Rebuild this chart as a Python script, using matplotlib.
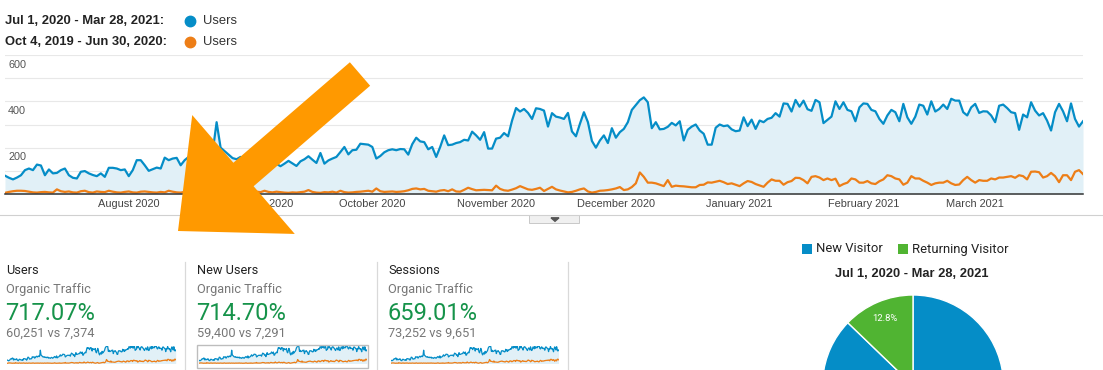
import numpy as np
import pandas as pd
import matplotlib
matplotlib.use("Agg")
import matplotlib.pyplot as plt
from matplotlib.patches import Polygon, Rectangle
from matplotlib.lines import Line2D

# daily users, Jul 1 2020 - Mar 28 2021
users_now = [
    79, 70, 63, 71, 81, 103, 110, 103, 127, 123,
    81, 106, 89, 91, 103, 110, 81, 70, 67, 96,
    99, 89, 82, 77, 89, 74, 113, 113, 110, 103,
    106, 77, 103, 146, 146, 124, 100, 107, 114, 110,
    157, 146, 153, 156, 124, 146,
    160, 170, 150, 165, 175, 160, 180, 310, 200, 185,
    170, 155, 150, 160, 145, 140, 150, 135, 140, 150,
    125, 135, 130, 120,
    131, 143, 132, 121, 141, 150, 163, 148, 134, 177,
    131, 145, 153, 160, 181, 203, 171, 189, 191, 217,
    215, 213, 203, 153, 164, 180, 189, 193, 189, 194,
    193, 170, 215, 243, 227, 224, 193, 203, 160, 203,
    253, 211, 213, 220, 224, 234, 231, 269, 253, 234,
    267, 196, 196, 239, 243, 263, 249, 317, 371, 356,
    367, 350, 324, 370, 367,
    360, 291, 349, 334, 330, 324, 350, 270, 249, 303,
    353, 310, 229, 200, 231, 253, 220, 284, 243, 267,
    281, 310, 363, 384, 405, 417, 396, 284, 310, 279,
    281, 290, 307, 296, 314, 231, 277, 291, 300, 274,
    260, 213, 213, 286, 300, 293, 296, 279, 271, 274,
    331, 293, 321, 281, 317, 310, 324, 329, 349, 334,
    391, 389, 356, 406, 377, 403, 366, 359, 406,
    396, 306, 320, 334, 400, 367, 396, 363, 357, 314,
    374, 391, 389, 363, 357, 324, 303, 339, 363, 353,
    314, 389, 331, 303, 334, 386, 381, 343, 400, 356,
    367, 386, 367, 411, 403, 403, 353, 339, 374, 389,
    350, 357, 356, 339, 310, 381, 386, 371, 353, 349,
    277, 343, 331, 396, 360, 339, 349, 317, 274, 353,
    389, 357, 314, 391, 324, 291, 314,
]

# same days one period earlier (Oct 4 2019 - Jun 30 2020)
users_prev = [
    5, 9, 12, 14, 14, 13, 10, 7, 6, 8,
    9, 7, 6, 20, 12, 9, 11, 7, 6, 12,
    14, 8, 6, 11, 9, 8, 14, 10, 7, 6,
    9, 11, 7, 6, 10, 11, 9, 7, 6, 9,
    7, 14, 10, 7, 6, 9,
    8, 10, 7, 12, 9, 6, 8, 11, 9, 7,
    10, 8, 6, 9, 12, 7, 9, 10, 8, 14,
    9, 7, 10, 8,
    6, 5, 7, 6, 8, 10, 17, 9, 6, 5,
    8, 7, 10, 6, 14, 8, 6, 7, 9, 10,
    12, 14, 10, 24, 12, 9, 10, 11, 9, 10,
    12, 16, 22, 24, 20, 22, 14, 12, 10, 15,
    17, 12, 20, 11, 10, 18, 27, 21, 16, 17,
    18, 17, 16, 36, 22, 16, 14, 19, 25, 34,
    27, 20, 18, 22, 27,
    13, 22, 31, 20, 15, 11, 7, 9, 14, 20,
    24, 11, 6, 9, 14, 15, 17, 20, 24, 30,
    17, 20, 30, 46, 93, 74, 49, 49, 46, 40,
    34, 60, 31, 36, 34, 33, 31, 29, 29, 39,
    40, 50, 49, 53, 57, 51, 43, 46, 40, 34,
    46, 56, 52, 43, 37, 31, 49, 63, 57, 57,
    40, 51, 56, 70, 69, 60, 46, 74, 77,
    71, 60, 67, 60, 66, 34, 43, 49, 67, 63,
    49, 49, 56, 46, 43, 55, 63, 81, 77, 67,
    63, 40, 49, 77, 67, 67, 57, 49, 39, 46,
    49, 49, 57, 46, 39, 41, 60, 74, 60, 49,
    60, 57, 57, 67, 63, 71, 71, 74, 77, 70,
    81, 77, 63, 96, 97, 94, 71, 77, 91, 77,
    51, 81, 81, 60, 96, 103, 86,
]

range_now = "Jul 1, 2020 - Mar 28, 2021"
range_prev = "Oct 4, 2019 - Jun 30, 2020"
y_labels = [200, 400, 600]

card_titles = ["Users", "New Users", "Sessions"]
card_segment = "Organic Traffic"
card_change = ["717.07%", "714.70%", "659.01%"]
card_compare = ["60,251 vs 7,374", "59,400 vs 7,291", "73,252 vs 9,651"]

visitor_labels = ["New Visitor", "Returning Visitor"]
visitor_share = [87.2, 12.8]

BLUE = "#058dc7"
ORANGE = "#ed7e17"
FILL = "#e1f0f7"
GREEN = "#50b432"
TXT_GREEN = "#16934a"
ARROW = "#ff9900"
ARIAL = ["Liberation Sans", "DejaVu Sans"]
ROBOTO = ["Roboto", "DejaVu Sans"]

W, H = 1103, 370


def fx(x):
    return x / W


def fy(y):
    return 1 - y / H


def box(x0, y0, x1, y1):
    # pixel box (top-left origin) -> figure rect
    return [fx(x0), fy(y1), (x1 - x0) / W, (y1 - y0) / H]


days = pd.date_range("2020-07-01", periods=len(users_now), freq="D")
days_prev = pd.date_range("2020-07-01", periods=len(users_prev), freq="D")
month_starts = pd.date_range("2020-08-01", "2021-03-01", freq="MS")

fig = plt.figure(figsize=(W / 100, H / 100), dpi=100)

# ---- main over-time chart
ax = fig.add_axes(box(5, 55, 1083, 194))
ax.fill_between(days, users_now, color=FILL, lw=0)
ax.plot(days, users_now, color=BLUE, lw=1.6, solid_joinstyle="round")
ax.plot(days_prev, users_prev, color=ORANGE, lw=1.6, solid_joinstyle="round")
ax.set_xlim(days[0], days[-1])
ax.set_ylim(0, 600)
ax.set_yticks(range(0, 601, 100))
ax.yaxis.grid(True, color="#e8e8e8", lw=0.8)
ax.set_axisbelow(True)
ax.tick_params(axis="y", length=0, labelleft=False)
for v in y_labels:
    ax.annotate(str(v), (0, v), xycoords=("axes fraction", "data"),
                xytext=(2.3, -7), textcoords="offset points",
                ha="left", va="center", fontsize=7.8, color="#555",
                family=ARIAL)
ax.set_xticks(month_starts)
ax.set_xticklabels([d.strftime("%B %Y") for d in month_starts], family=ARIAL)
ax.tick_params(axis="x", length=0, pad=3.5, labelsize=7.9, labelcolor="#444")
for s in ["top", "left", "right"]:
    ax.spines[s].set_visible(False)
ax.spines["bottom"].set_color("#333")
ax.spines["bottom"].set_linewidth(1.1)

# legend at top
fig.text(fx(5), fy(20.5), range_now + ":", fontsize=9.4, fontweight="bold",
         family=ARIAL, color="#222", va="center")
fig.text(fx(5), fy(42), range_prev + ":", fontsize=9.4, fontweight="bold",
         family=ARIAL, color="#222", va="center")
for yy, c in [(20.5, BLUE), (42, ORANGE)]:
    fig.add_artist(Line2D([fx(190)], [fy(yy)], marker="o", ms=7.5, color=c,
                          transform=fig.transFigure))
    fig.text(fx(203), fy(yy), "Users", fontsize=9.4, family=ARIAL,
             color="#333", va="center")

# slider strip under chart
fig.add_artist(Line2D([0, 1], [fy(215), fy(215)], color="#d0d0d0", lw=0.8,
                      transform=fig.transFigure))
fig.add_artist(Rectangle((fx(529), fy(223)), (579 - 529) / W, 8 / H,
                         facecolor="#f0f0f0", edgecolor="#c8c8c8", lw=0.7,
                         transform=fig.transFigure))
fig.add_artist(Polygon([(fx(551), fy(217.8)), (fx(559), fy(217.8)),
                        (fx(555), fy(221.3))], closed=True, color="#555",
                       transform=fig.transFigure))

# ---- big orange arrow
tail = np.array([360.0, 74.0])
base = np.array([243.5, 174.5])
tip = np.array([178.0, 231.0])
shaft_w, head_w = 31.0, 157.0
d = (base - tail) / np.linalg.norm(base - tail)
n = np.array([d[1], -d[0]])
pts = [tail + n * shaft_w / 2, base + n * shaft_w / 2, base + n * head_w / 2,
       tip, base - n * head_w / 2, base - n * shaft_w / 2, tail - n * shaft_w / 2]
fig.add_artist(Polygon([(fx(p[0]), fy(p[1])) for p in pts], closed=True,
                       facecolor=ARROW, edgecolor="none", zorder=10,
                       transform=fig.transFigure))

# ---- scorecards
card_x = [6, 196.7, 388]
spark_x = [(7.3, 175.7), (198.7, 366.7), (390.7, 558.5)]
for i in range(3):
    x = card_x[i]
    fig.text(fx(x), fy(270), card_titles[i], fontsize=9.2, family=ROBOTO,
             color="#222", va="center")
    fig.text(fx(x), fy(289.5), card_segment, fontsize=9.2, family=ROBOTO,
             color="#777", va="center")
    fig.text(fx(x - 0.5), fy(313.5), card_change[i], fontsize=17, family=ROBOTO,
             color=TXT_GREEN, va="center")
    fig.text(fx(x), fy(333), card_compare[i], fontsize=9.2, family=ROBOTO,
             color="#777", va="center")
    sx = fig.add_axes(box(spark_x[i][0], 345.5, spark_x[i][1], 363.5))
    sx.fill_between(days, users_now, color=FILL, lw=0)
    sx.plot(days, users_now, color=BLUE, lw=0.9)
    sx.plot(days_prev, users_prev, color=ORANGE, lw=0.9)
    sx.set_xlim(days[0], days[-1])
    sx.set_ylim(0, 420)
    sx.axis("off")

fig.add_artist(Rectangle((fx(196.7), fy(368.3)), (368.3 - 196.7) / W,
                         (368.3 - 345) / H, facecolor="none",
                         edgecolor="#bdbdbd", lw=1.0, transform=fig.transFigure))
for sxp in [185, 377, 568]:
    fig.add_artist(Line2D([fx(sxp), fx(sxp)], [fy(262), fy(370)],
                          color="#d9d9d9", lw=0.9, transform=fig.transFigure))

# ---- visitor pie
for x0, c, lab in [(801.7, BLUE, visitor_labels[0]), (898, GREEN, visitor_labels[1])]:
    fig.add_artist(Rectangle((fx(x0), fy(254)), 10 / W, 10 / H, facecolor=c,
                             edgecolor="none", transform=fig.transFigure))
    fig.text(fx(x0 + 14.5), fy(249), lab, fontsize=9.4, family=ROBOTO,
             color="#222", va="center")
fig.text(fx(912), fy(274), range_now, fontsize=9.3, fontweight="bold",
         family=ARIAL, color="#222", ha="center", va="center")

pax = fig.add_axes(box(822.5, 295, 1003.5, 476))
# the big slice's label sits below the visible area in the screenshot
pax.pie(visitor_share, colors=[BLUE, GREEN], startangle=90, counterclock=False,
        wedgeprops=dict(edgecolor="white", linewidth=1.0),
        autopct=lambda p: f"{p:.1f}%" if p < 50 else "", pctdistance=0.8,
        textprops=dict(color="white", fontsize=6.8, family=ROBOTO))
pax.set_xlim(-1, 1)
pax.set_ylim(-1, 1)
pax.axis("off")

fig.savefig("out.png", dpi=100)
